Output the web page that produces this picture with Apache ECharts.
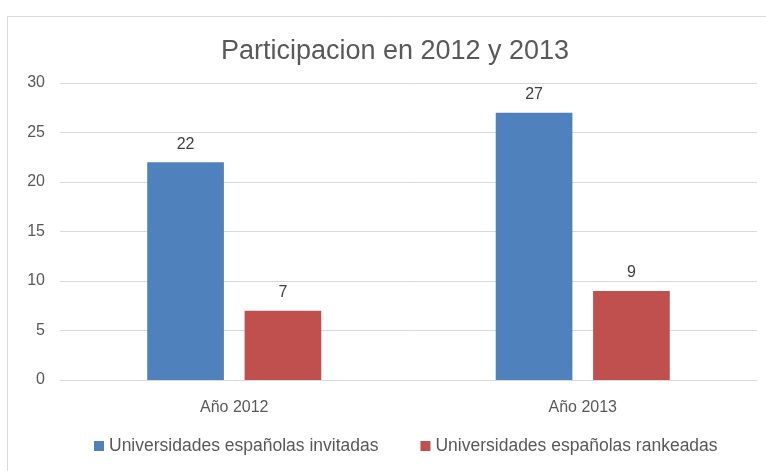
<!DOCTYPE html>
<html>
<head>
<meta charset="utf-8">
<script src="https://cdn.jsdelivr.net/npm/echarts@6/dist/echarts.min.js"></script>
<style>
  html, body { margin: 0; padding: 0; background: #fff; }
  #chart { width: 766px; height: 471px; }
</style>
</head>
<body>
<div id="chart"></div>
<script>
const categories = ["Año 2012", "Año 2013"];
const invitadas = [22, 27];
const rankeadas = [7, 9];
const seriesNames = ["Universidades españolas invitadas", "Universidades españolas rankeadas"];
const FONT = "Liberation Sans";
const chart = echarts.init(document.querySelector("#chart"), null, {renderer: "canvas"});
chart.setOption({
  animation: false,
  textStyle: {fontFamily: FONT},
  graphic: [
    {
      type: "rect",
      shape: {x: 7.5, y: 16.5, width: 800, height: 500},
      style: {fill: null, stroke: "#d9d9d9", lineWidth: 1},
      silent: true
    }
  ],
  title: {
    text: "Participacion en 2012 y 2013",
    left: 390,
    textAlign: "center",
    top: 33,
    textStyle: {fontFamily: FONT, fontSize: 27, fontWeight: "normal", color: "#595959"}
  },
  legend: {
    data: seriesNames,
    bottom: 11,
    left: 89,
    itemWidth: 10,
    itemHeight: 10,
    itemGap: 42,
    icon: "rect",
    textStyle: {fontFamily: FONT, fontSize: 17.5, color: "#595959"}
  },
  grid: {left: 60, right: 9, top: 83, bottom: 91, containLabel: false},
  xAxis: {
    type: "category",
    data: categories,
    axisLine: {lineStyle: {color: "#d9d9d9"}},
    axisTick: {show: false},
    axisLabel: {fontFamily: FONT, fontSize: 16, color: "#595959", margin: 20}
  },
  yAxis: {
    type: "value",
    min: 0,
    max: 30,
    interval: 5,
    axisLine: {show: false},
    axisTick: {show: false},
    splitLine: {lineStyle: {color: "#d9d9d9"}},
    axisLabel: {fontFamily: FONT, fontSize: 16, color: "#595959", margin: 15}
  },
  series: [
    {
      name: seriesNames[0],
      type: "bar",
      data: invitadas,
      barWidth: "22%",
      barGap: "27%",
      itemStyle: {color: "#4f81bd"},
      label: {show: true, position: "top", distance: 10, fontFamily: FONT, fontSize: 16, color: "#404040"}
    },
    {
      name: seriesNames[1],
      type: "bar",
      data: rankeadas,
      barWidth: "22%",
      itemStyle: {color: "#c0504d"},
      label: {show: true, position: "top", distance: 10, fontFamily: FONT, fontSize: 16, color: "#404040"}
    }
  ]
});
</script>
</body>
</html>
